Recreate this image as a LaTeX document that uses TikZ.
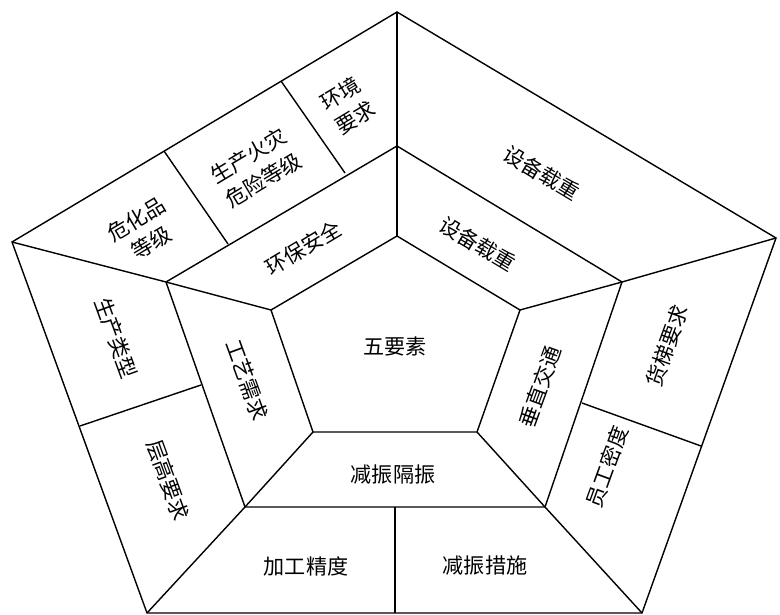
\documentclass[tikz,border=0pt]{standalone}
\usepackage{fontspec}
\newfontfamily\cjk{Noto Sans CJK SC}
\begin{document}
\begin{tikzpicture}[
x=0.025cm,y=-0.025cm,
line width=1pt,
every node/.style={font=\cjk\fontsize{15}{20}\selectfont,inner sep=1pt,align=center},
upleft/.style={rotate=31},
upright/.style={rotate=-31},
downleft/.style={rotate=-70},
upward/.style={rotate=70}
]
\useasboundingbox (0,0) rectangle (780,615);
% outer pentagon
\coordinate (o1) at (397,12);
\coordinate (o2) at (776,238);
\coordinate (o3) at (642,613);
\coordinate (o4) at (147,613);
\coordinate (o5) at (12,242);
% middle pentagon
\coordinate (m1) at (397,146);
\coordinate (m2) at (622,282);
\coordinate (m3) at (545,507);
\coordinate (m4) at (245,507);
\coordinate (m5) at (166,282);
% inner pentagon
\coordinate (i1) at (397,236);
\coordinate (i2) at (520,310);
\coordinate (i3) at (477,432);
\coordinate (i4) at (313,432);
\coordinate (i5) at (271,310);
% dividing points
\coordinate (a1) at (164,151);
\coordinate (a2) at (228,244);
\coordinate (b1) at (281,81);
\coordinate (b2) at (345,173);
\coordinate (c1) at (80,426);
\coordinate (c2) at (201,385);
\coordinate (d1) at (701,446);
\coordinate (d2) at (582,403);
\coordinate (e1) at (395,613);
\coordinate (e2) at (395,507);

\draw (o1)--(o2)--(o3)--(o4)--(o5)--cycle;
\draw (m1)--(m2)--(m3)--(m4)--(m5)--cycle;
\draw (i1)--(i2)--(i3)--(i4)--(i5)--cycle;
\draw (o1)--(m1)--(i1);
\draw (o2)--(m2)--(i2);
\draw (o3)--(m3)--(i3);
\draw (o4)--(m4)--(i4);
\draw (o5)--(m5)--(i5);
\draw (a1)--(a2);
\draw (b1)--(b2);
\draw (c1)--(c2);
\draw (d1)--(d2);
\draw (e1)--(e2);

\node (core) at (395,346) {五要素};
% middle ring
\node[upleft] (hbaq) at (303,248) {环保安全};
\node[upright] (sbzz) at (478,244) {设备载重};
\node[upward] (czjt) at (540,387) {垂直交通};
\node (jzgz) at (393,475) {减振隔振};
\node[downleft] (gyxq) at (247,380) {工艺需求};
% outer ring
\node[upleft] (hjyq) at (348,106) {环境\\要求};
\node[upleft] (schz) at (256,168) {生产火灾\\危险等级};
\node[upleft] (whpd) at (144,231) {危化品\\等级};
\node[upright] (sbzz2) at (542,173) {设备载重};
\node[upward] (htyq) at (667,346) {货梯要求};
\node[upward] (ygmd) at (607,467) {员工密度};
\node (jzcs) at (485,566) {减振措施};
\node (jgjd) at (306,566) {加工精度};
\node[downleft] (cgyq) at (168,480) {层高要求};
\node[downleft] (sclx) at (116,338) {生产类型};
\end{tikzpicture}
\end{document}
